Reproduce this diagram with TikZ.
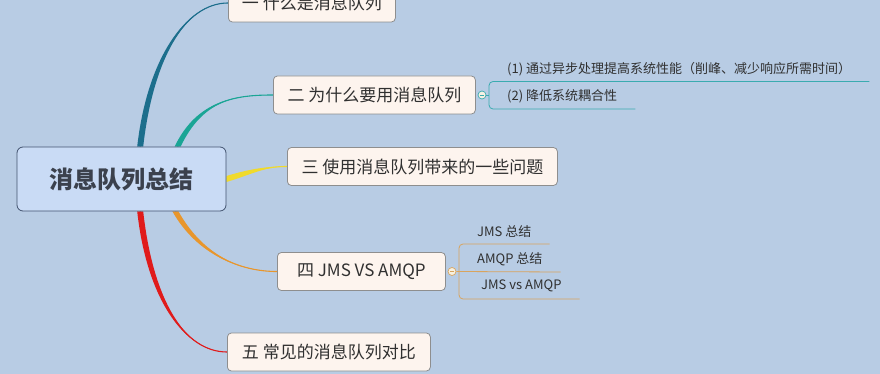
\documentclass[tikz,border=0pt]{standalone}
\usepackage{fontspec}
\newfontfamily\cjk{Noto Sans CJK SC}
\usetikzlibrary{calc,backgrounds}
\definecolor{paper}{HTML}{B8CCE4}
\definecolor{rootfill}{HTML}{C9DBF5}
\definecolor{rootline}{HTML}{42536F}
\definecolor{rootink}{HTML}{3B414D}
\definecolor{topicfill}{HTML}{FDF4EE}
\definecolor{topicline}{HTML}{8E8E8E}
\definecolor{ink}{HTML}{303030}
\definecolor{foldfill}{HTML}{F6F1E2}
\definecolor{bone}{HTML}{1C6E8C}
\definecolor{btwo}{HTML}{1AA595}
\definecolor{bthree}{HTML}{F0DA2C}
\definecolor{bfour}{HTML}{E8962C}
\definecolor{bfive}{HTML}{E01B1B}
\definecolor{subtwo}{HTML}{3AABB0}
\definecolor{subfour}{HTML}{D9A45E}

\tikzset{
  root/.style={draw=rootline, fill=rootfill, rounded corners=6pt, line width=0.8pt,
    text=rootink, font=\cjk\bfseries\fontsize{24}{28}\selectfont,
    minimum width=209pt, minimum height=64pt},
  topic/.style={draw=topicline, fill=topicfill, rounded corners=4pt, line width=0.8pt,
    text=ink, font=\cjk\fontsize{17}{19}\selectfont, inner xsep=12pt,
    minimum height=38pt, minimum width=#1, anchor=west},
  sub/.style={font=\cjk\fontsize{13}{15}\selectfont, text=ink, inner xsep=18pt,
    inner ysep=0pt, minimum height=25pt, anchor=south west},
  fold/.style={circle, draw=#1, fill=foldfill, inner sep=0pt, minimum size=8pt,
    line width=0.7pt, path picture={\draw[#1, line width=0.7pt]
      ([xshift=-2pt]path picture bounding box.center) --
      ([xshift=2pt]path picture bounding box.center);}},
}

% tapered branch: colour, from, control 1, control 2, to, half width at start
\newcommand\branch[6]{%
  \fill[#1] ($(#2)+#6$) .. controls ($(#3)+#6$) and (#4) .. (#5)
    .. controls (#4) and ($(#3)-#6$) .. ($(#2)-#6$) -- cycle;
  \draw[#1, line width=1.1pt] (#2) .. controls (#3) and (#4) .. (#5);}

\begin{document}
\begin{tikzpicture}[x=1pt, y=-1pt]
\useasboundingbox (0,0) rectangle (880,374);

\node[root] (root) at (121.5,179) {消息队列总结};

\node[topic=167pt] (t1) at (228,3)   {一 什么是消息队列};
\node[topic=202pt] (t2) at (273,95)  {二 为什么要用消息队列};
\node[topic=270pt] (t3) at (287,166.5) {三 使用消息队列带来的一些问题};
\node[topic=168pt] (t4) at (277,271.5) {四 JMS VS AMQP};
\node[topic=203pt] (t5) at (227,352) {五 常见的消息队列对比};

% sub topics of t2
\node[fold=subtwo] (f2) at (482,95) {};
\node[sub] (s21) at (489,81.5) {(1) 通过异步处理提高系统性能（削峰、减少响应所需时间）};
\node[sub] (s22) at (489,109)  {(2) 降低系统耦合性};
\draw[subtwo, line width=0.8pt] (f2.east) -- (f2.east -| s21.south west);
\draw[subtwo, line width=0.8pt, rounded corners=4pt]
  (s21.south east) -- (s21.south west) -- (s22.south west) -- (s22.south east);

% sub topics of t4
\node[fold=subfour] (f4) at (452,271.5) {};
\node[sub] (s41) at (459,244) {JMS 总结};
\node[sub] (s42) at (459,272) {AMQP 总结};
\node[sub, xshift=4pt] (s43) at (459,299) {JMS vs AMQP};
\draw[subfour, line width=0.8pt] (f4.east) -- (s42.south east);
\draw[subfour, line width=0.8pt, rounded corners=4pt]
  (s41.south east) -- (s41.south west) -- (459,299) -- (s43.south east);

\begin{scope}[on background layer]
\fill[paper] (0,0) rectangle (880,374);
\branch{bone}{root.60}{150,60}{185,3}{t1.west}{(3,0)}
\branch{btwo}{root.30}{200,100}{235,95}{t2.west}{(3,0)}
\branch{bthree}{root.east}{250,172}{265,166.5}{t3.west}{(0,3)}
\branch{bfour}{root.-31}{200,255}{240,271.5}{t4.west}{(3,0)}
\branch{bfive}{root.-60}{150,300}{185,352}{t5.west}{(3,0)}
\end{scope}
\end{tikzpicture}
\end{document}
